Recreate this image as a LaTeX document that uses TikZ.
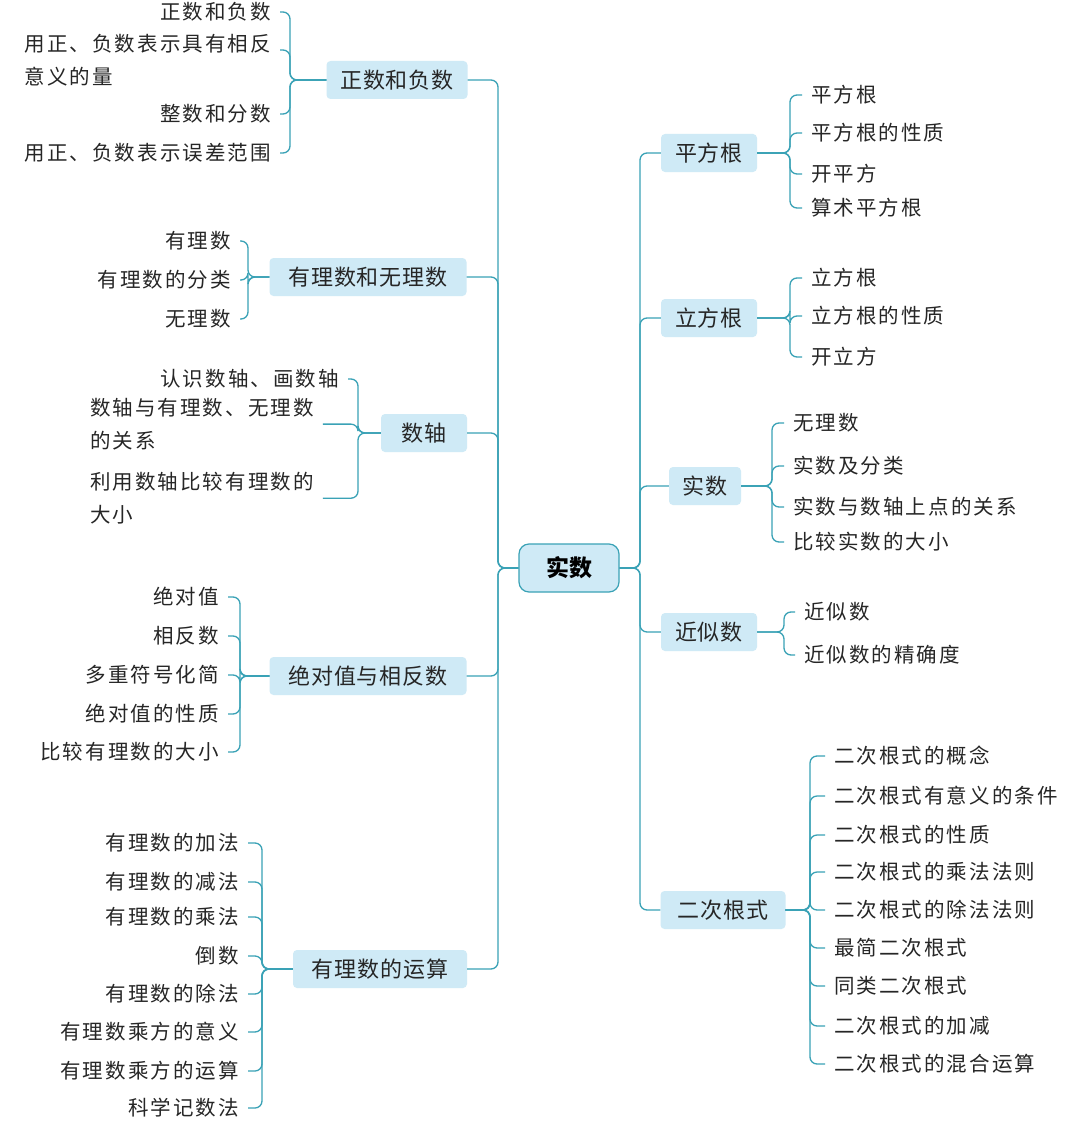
\documentclass[tikz,border=0pt]{standalone}
\usepackage{fontspec}
\setmainfont{Noto Sans CJK SC}
\newfontfamily\leaffont[LetterSpace=10]{Noto Sans CJK SC}
\newfontfamily\topicfont[LetterSpace=4]{Noto Sans CJK SC}
\definecolor{boxc}{HTML}{CFEAF6}
\definecolor{linec}{HTML}{3AA2B6}
\begin{document}
\begin{tikzpicture}[x=1pt,y=-1pt,
  conn/.style={draw=linec,line width=1.3pt,rounded corners=7pt},
  topic/.style={fill=boxc,rounded corners=4pt,minimum height=38pt,inner xsep=4pt,font=\topicfont\fontsize{22}{25}\selectfont,text=black!85},
  leaf/.style={inner xsep=9pt,inner ysep=2pt,font=\leaffont\fontsize{20.5}{33}\selectfont,text=black!85}]
\useasboundingbox (0,0) rectangle (1080,1121);
\fill[white] (0,0) rectangle (1080,1121);
\node[fill=boxc,draw=linec,line width=1.2pt,rounded corners=10pt,minimum width=100pt,minimum height=48pt,font=\fontsize{23}{26}\selectfont\bfseries] (c) at (569,568) {实数};
\coordinate (TL) at (498,0);
\coordinate (TR) at (640,0);
% left topics
\node[topic,minimum width=141pt] (a1) at (397,80) {正数和负数};
\node[topic,minimum width=197pt] (a2) at (368,277) {有理数和无理数};
\node[topic,minimum width=86pt] (a3) at (424,433) {数轴};
\node[topic,minimum width=197pt] (a4) at (368,676) {绝对值与相反数};
\node[topic,minimum width=174pt] (a5) at (380,969) {有理数的运算};
% right topics
\node[topic,minimum width=96pt] (r1) at (709,153) {平方根};
\node[topic,minimum width=96pt] (r2) at (709,318) {立方根};
\node[topic,minimum width=72pt] (r3) at (705,486) {实数};
\node[topic,minimum width=96pt] (r4) at (709,632) {近似数};
\node[topic,minimum width=125pt] (r5) at (723,910) {二次根式};
\foreach \n in {a1,a2,a3,a4,a5} \draw[conn] (c.west) -- (c.west -| TL) |- (\n.east);
\foreach \n in {r1,r2,r3,r4,r5} \draw[conn] (c.east) -- (c.east -| TR) |- (\n.west);
% bracket coordinates
\coordinate (b1) at (290,0); \coordinate (b2) at (248,0); \coordinate (b3) at (358,0);
\coordinate (b4) at (240,0); \coordinate (b5) at (262,0);
\coordinate (q1) at (790,0); \coordinate (q2) at (790,0); \coordinate (q3) at (772,0);
\coordinate (q4) at (784,0); \coordinate (q5) at (810,0);
% group 1
\foreach \t/\y [count=\i] in {正数和负数/12,整数和分数/114,用正、负数表示误差范围/153}{
  \node[leaf,anchor=east] (g1l\i) at (280,\y) {\t};
  \draw[conn] (a1.west) -- (a1.west -| b1) |- (g1l\i.east);}
\node[leaf,anchor=north east,align=left] (g1m) at (280,32) {用正、负数表示具有相反\\意义的量};
\draw[conn] (a1.west) -- (a1.west -| b1) |- ([yshift=-18pt]g1m.north east);
% group 2
\foreach \t/\y [count=\i] in {有理数/241,有理数的分类/280,无理数/319}{
  \node[leaf,anchor=east] (g2l\i) at (240,\y) {\t};
  \draw[conn] (a2.west) -- (a2.west -| b2) |- (g2l\i.east);}
% group 3
\node[leaf,anchor=east] (g3l1) at (348,379) {认识数轴、画数轴};
\draw[conn] (a3.west) -- (a3.west -| b3) |- (g3l1.east);
\node[leaf,anchor=north west,align=left] (g3l2) at (81,396) {数轴与有理数、无理数\\的关系};
\draw[conn] (a3.west) -- (a3.west -| b3) |- (g3l2.east);
\node[leaf,anchor=north west,align=left] (g3l3) at (81,470) {利用数轴比较有理数的\\大小};
\draw[conn] (a3.west) -- (a3.west -| b3) |- (g3l3.east);
% group 4
\foreach \t/\y [count=\i] in {绝对值/597,相反数/636,多重符号化简/675,绝对值的性质/714,比较有理数的大小/752}{
  \node[leaf,anchor=east] (g4l\i) at (228,\y) {\t};
  \draw[conn] (a4.west) -- (a4.west -| b4) |- (g4l\i.east);}
% group 5
\foreach \t/\y [count=\i] in {有理数的加法/843,有理数的减法/882,有理数的乘法/917,倒数/956,有理数的除法/994,有理数乘方的意义/1032,有理数乘方的运算/1071,科学记数法/1108}{
  \node[leaf,anchor=east] (g5l\i) at (248,\y) {\t};
  \draw[conn] (a5.west) -- (a5.west -| b5) |- (g5l\i.east);}
% right groups
\foreach \t/\y [count=\i] in {平方根/95,平方根的性质/133,开平方/174,算术平方根/208}{
  \node[leaf,anchor=west] (h1l\i) at (802,\y) {\t};
  \draw[conn] (r1.east) -- (r1.east -| q1) |- (h1l\i.west);}
\foreach \t/\y [count=\i] in {立方根/278,立方根的性质/316,开立方/357}{
  \node[leaf,anchor=west] (h2l\i) at (802,\y) {\t};
  \draw[conn] (r2.east) -- (r2.east -| q2) |- (h2l\i.west);}
\foreach \t/\y [count=\i] in {无理数/423,实数及分类/466,实数与数轴上点的关系/507,比较实数的大小/542}{
  \node[leaf,anchor=west] (h3l\i) at (784,\y) {\t};
  \draw[conn] (r3.east) -- (r3.east -| q3) |- (h3l\i.west);}
\foreach \t/\y [count=\i] in {近似数/612,近似数的精确度/655}{
  \node[leaf,anchor=west] (h4l\i) at (795,\y) {\t};
  \draw[conn] (r4.east) -- (r4.east -| q4) |- (h4l\i.west);}
\foreach \t/\y [count=\i] in {二次根式的概念/756,二次根式有意义的条件/796,二次根式的性质/835,二次根式的乘法法则/872,二次根式的除法法则/910,最简二次根式/948,同类二次根式/986,二次根式的加减/1026,二次根式的混合运算/1064}{
  \node[leaf,anchor=west] (h5l\i) at (825,\y) {\t};
  \draw[conn] (r5.east) -- (r5.east -| q5) |- (h5l\i.west);}
\end{tikzpicture}
\end{document}
